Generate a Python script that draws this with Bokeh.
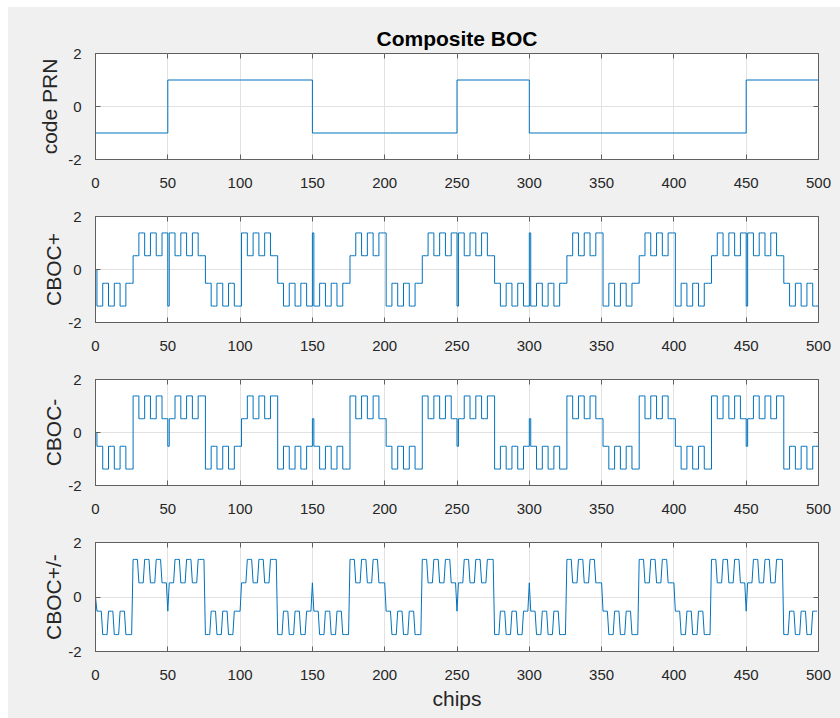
import numpy as np
from bokeh.plotting import figure
from bokeh.layouts import column, row
from bokeh.models import LinearAxis, FixedTicker, Range1d, Spacer, AllLabels
from bokeh.embed import file_html
from bokeh.resources import INLINE

# ---------------- data ----------------
samples_per_chip = 50
prn_code = [-1, 1, 1, -1, -1, 1, -1, -1, -1, 1]          # one value per chip
# BOC(1,1) subcarrier sign over one chip (sample 0 = chip boundary)
boc11_chip = [-1,
              1, 1, 1, 1, 1, 1, 1, 1, 1, 1, 1, 1, 1, 1, 1, 1, 1, 1, 1, 1, 1, 1, 1, 1, 1,
              -1, -1, -1, -1, -1, -1, -1, -1, -1, -1, -1, -1,
              -1, -1, -1, -1, -1, -1, -1, -1, -1, -1, -1, -1]
# BOC(6,1) subcarrier sign over one chip
boc61_chip = [-1,
              1, 1, 1, 1, -1, -1, -1, -1, 1, 1, 1, 1, -1, -1, -1, -1, 1, 1, 1, 1, -1, -1, -1, -1,
              -1,
              1, 1, 1, 1, -1, -1, -1, -1, 1, 1, 1, 1, -1, -1, -1, -1, 1, 1, 1, 1, -1, -1, -1, -1]
start_sample_value = 0          # first sample (sin(0) = 0)
level_outer = 1.38              # amplitude when both subcarriers agree
level_inner = 0.52              # amplitude when they disagree
x_ticks = [0, 50, 100, 150, 200, 250, 300, 350, 400, 450, 500]
y_ticks = [-2, 0, 2]
y_tick_labels = {-2: "-2", 0: "0", 2: "2"}
y_labels = ["code PRN", "CBOC+", "CBOC-", "CBOC+/-"]
title_text = "Composite BOC"
x_label = "chips"

# ---------------- build signals ----------------
n = samples_per_chip * len(prn_code)
t = np.arange(n)
chip_idx = t // samples_per_chip
phase = t % samples_per_chip
c = np.array(prn_code)[chip_idx]
s1 = np.array(boc11_chip, dtype=float)[phase]
s6 = np.array(boc61_chip, dtype=float)[phase]
s1[0] = start_sample_value
s6[0] = start_sample_value
a = (level_outer + level_inner) / 2
b = (level_outer - level_inner) / 2
cboc_plus = c * (a * s1 + b * s6)
cboc_minus = c * (a * s1 - b * s6)

chip_x = [i * samples_per_chip for i in range(len(prn_code) + 1)]
chip_y = prn_code + [prn_code[-1]]
stx = np.append(t, n)

FONT = "Liberation Sans"
AX_COL = "#606060"
TXT_COL = "#262626"
LINE_COL = "#0072BD"
BG = "#f0f0f0"
LEFT_PAD = 8
TOP_PAD = 7
W = 840 - LEFT_PAD


def make_fig(height, top, bottom, ylabel, label_standoff, title=None, xlabel=None):
    p = figure(width=W, height=height, output_backend="svg", toolbar_location=None,
               min_border_left=95 - LEFT_PAD, min_border_right=22, min_border_top=top,
               min_border_bottom=bottom,
               x_range=Range1d(0, 500), y_range=Range1d(-2, 2),
               background_fill_color="white", border_fill_color=BG)
    p.outline_line_color = AX_COL
    p.outline_line_width = 1
    for ax in (p.xaxis[0], p.yaxis[0]):
        ax.axis_line_color = AX_COL
        ax.major_tick_line_color = AX_COL
        ax.major_tick_in = 5
        ax.major_tick_out = 0
        ax.minor_tick_line_color = None
        ax.major_label_text_font = FONT
        ax.major_label_text_font_size = "15px"
        ax.major_label_text_color = TXT_COL
        ax.major_label_policy = AllLabels()
        ax.axis_label_text_font = FONT
        ax.axis_label_text_font_size = "21px"
        ax.axis_label_text_font_style = "normal"
        ax.axis_label_text_color = TXT_COL
    p.xaxis.ticker = FixedTicker(ticks=x_ticks)
    p.yaxis.ticker = FixedTicker(ticks=y_ticks)
    p.yaxis.major_label_overrides = y_tick_labels
    p.xaxis.major_label_standoff = 18
    p.yaxis.major_label_standoff = 14
    p.yaxis.axis_label = ylabel
    p.yaxis.axis_label_standoff = label_standoff
    if xlabel:
        p.xaxis.axis_label = xlabel
        p.xaxis.axis_label_standoff = 4
    for loc, tk in (("above", x_ticks), ("right", y_ticks)):
        ax = LinearAxis(ticker=FixedTicker(ticks=tk), axis_line_color=None,
                        major_tick_line_color=AX_COL, major_tick_in=5, major_tick_out=0,
                        minor_tick_line_color=None, major_label_text_font_size="0px",
                        major_label_standoff=0)
        p.add_layout(ax, loc)
    p.xgrid.grid_line_color = "#e2e2e2"
    p.ygrid.grid_line_color = "#e2e2e2"
    if title:
        p.title.text = title
        p.title.align = "center"
        p.title.text_font = FONT
        p.title.text_font_size = "21px"
        p.title.text_font_style = "bold"
        p.title.text_color = "black"
        p.title.standoff = 8
    return p


p1 = make_fig(190 - TOP_PAD, 53 - TOP_PAD, 28, y_labels[0], 4, title=title_text)
p1.step(chip_x, chip_y, mode="after", line_color=LINE_COL, line_width=1)

p2 = make_fig(163, 26, 28, y_labels[1], 0)
p2.step(stx, np.append(cboc_plus, cboc_plus[-1]), mode="after", line_color=LINE_COL, line_width=1)

p3 = make_fig(163, 26, 28, y_labels[2], 0)
p3.step(stx, np.append(cboc_minus, cboc_minus[-1]), mode="after", line_color=LINE_COL, line_width=1)

p4 = make_fig(202, 26, 67, y_labels[3], 0, xlabel=x_label)
p4.line(t, cboc_minus, line_color=LINE_COL, line_width=1)

inner = column(p1, p2, p3, p4, spacing=0, styles={"background-color": BG})
layout = column(Spacer(height=TOP_PAD, width=840, styles={"background-color": "white"}),
                row(Spacer(width=LEFT_PAD, height=718 - TOP_PAD, styles={"background-color": "white"}),
                    inner, spacing=0, styles={"background-color": BG}),
                spacing=0, styles={"background-color": BG})
open("out.html", "w").write(file_html(layout, INLINE))
